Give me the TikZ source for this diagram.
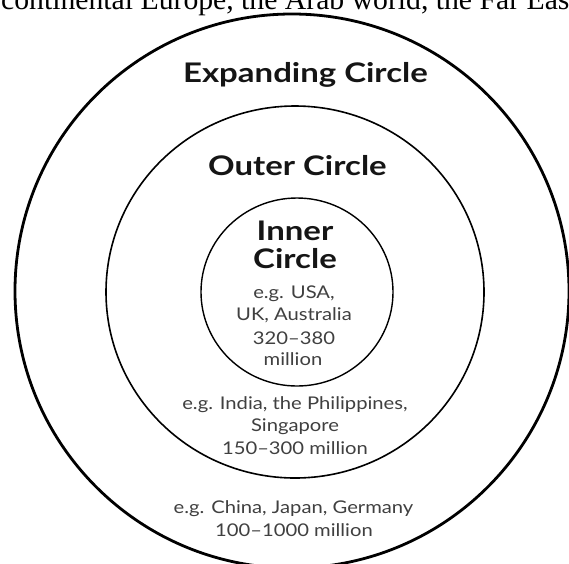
\documentclass[tikz,border=0pt]{standalone}
\usepackage{fontspec}
\setmainfont{Lato}
\newfontfamily\topserif[Ligatures=TeX]{Liberation Serif}
\newfontfamily\titlefont[Ligatures=TeX, FakeStretch=1.22]{Lato}
\newfontfamily\smallfont[Ligatures=TeX, FakeStretch=1.155]{Lato}
\usetikzlibrary{shapes.geometric}
\definecolor{titlecol}{HTML}{151515}
\definecolor{smallcol}{HTML}{404040}
\tikzset{
  ring/.style={ellipse, draw=black, inner sep=0pt, outer sep=0pt},
  title/.style={anchor=base, inner sep=0pt, text=titlecol, font=\titlefont\fontsize{27}{30}\selectfont\bfseries},
  small/.style={anchor=base, inner sep=0pt, text=smallcol, font=\smallfont\fontsize{17.5}{20}\selectfont},
}
\begin{document}
\begin{tikzpicture}[x=1pt,y=-1pt]
\useasboundingbox (0,0) rectangle (569,563);
\clip (0,0) rectangle (569,563);
\fill[white] (0,0) rectangle (569,563);
% cut-off line of running text above the figure
\node[anchor=base west, inner sep=0pt, font=\topserif\fontsize{29.7}{30}\selectfont] (toptext) at (1,9.5) {continental Europe, the Arab world, the Far East};
% circles
\node[ring, line width=2.8pt, minimum width=554pt, minimum height=554pt] (outer) at (292,291) {};
\node[ring, line width=1.6pt, minimum width=378pt, minimum height=372pt] (middle) at (295,292) {};
\node[ring, line width=1.4pt, minimum width=192pt, minimum height=188pt] (inner) at (297,292) {};
% titles
\node[title] (exptitle) at (305.5,82) {Expanding Circle};
\node[title] (outtitle) at (297.5,175) {Outer Circle};
\node[title] (inntitleA) at (295,240) {Inner};
\node[title] (inntitleB) at (295,268) {Circle};
% inner circle text
\node[small] (inA) at (294,298) {e.g. USA,};
\node[small] (inB) at (294,320.5) {UK, Australia};
\node[small] (inC) at (294,344.5) {320–380};
\node[small] (inD) at (293,365) {million};
% outer circle text
\node[small] (outA) at (295,409) {e.g. India, the Philippines,};
\node[small] (outB) at (295,431) {Singapore};
\node[small] (outC) at (295,454) {150–300 million};
% expanding circle text
\node[small] (expA) at (293.5,513) {e.g. China, Japan, Germany};
\node[small] (expB) at (294,536) {100–1000 million};
\end{tikzpicture}
\end{document}
